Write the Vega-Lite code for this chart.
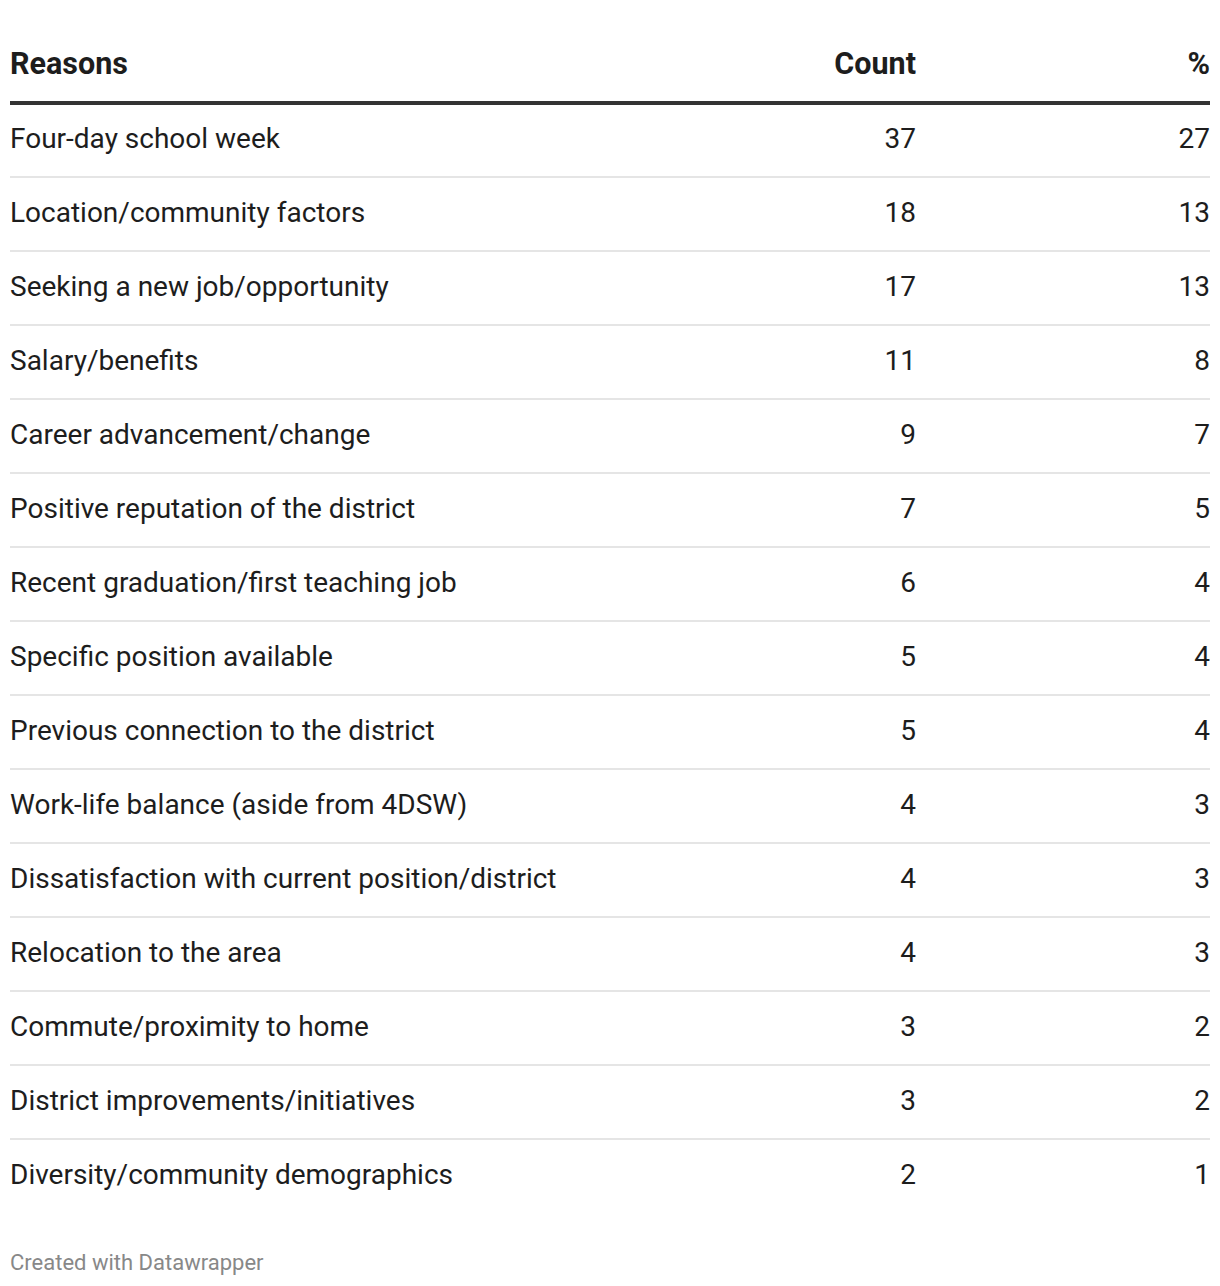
{
  "$schema": "https://vega.github.io/schema/vega-lite/v6.json",
  "padding": {"left": 8, "top": 49, "right": 10, "bottom": 10},
  "bounds": "flush",
  "spacing": 0,
  "background": "white",
  "config": {
    "view": {"stroke": null},
    "font": "Roboto",
    "concat": {"spacing": 0}
  },
  "title": {
    "text": "Created with Datawrapper",
    "orient": "bottom",
    "anchor": "start",
    "frame": "group",
    "font": "Roboto",
    "fontSize": 22,
    "fontWeight": "normal",
    "color": "#888888",
    "baseline": "alphabetic",
    "offset": 57
  },
  "datasets": {
    "table": [
      {"Reasons": "Four-day school week", "Count": 37, "Pct": 27},
      {"Reasons": "Location/community factors", "Count": 18, "Pct": 13},
      {"Reasons": "Seeking a new job/opportunity", "Count": 17, "Pct": 13},
      {"Reasons": "Salary/benefits", "Count": 11, "Pct": 8},
      {"Reasons": "Career advancement/change", "Count": 9, "Pct": 7},
      {"Reasons": "Positive reputation of the district", "Count": 7, "Pct": 5},
      {"Reasons": "Recent graduation/first teaching job", "Count": 6, "Pct": 4},
      {"Reasons": "Specific position available", "Count": 5, "Pct": 4},
      {"Reasons": "Previous connection to the district", "Count": 5, "Pct": 4},
      {"Reasons": "Work-life balance (aside from 4DSW)", "Count": 4, "Pct": 3},
      {"Reasons": "Dissatisfaction with current position/district", "Count": 4, "Pct": 3},
      {"Reasons": "Relocation to the area", "Count": 4, "Pct": 3},
      {"Reasons": "Commute/proximity to home", "Count": 3, "Pct": 2},
      {"Reasons": "District improvements/initiatives", "Count": 3, "Pct": 2},
      {"Reasons": "Diversity/community demographics", "Count": 2, "Pct": 1}
    ]
  },
  "hconcat": [
    {
      "width": 606,
      "height": 1110,
      "data": {"name": "table"},
      "title": {"text": "Reasons", "anchor": "start", "frame": "group", "font": "Roboto", "fontSize": 30.5, "fontWeight": "bold", "color": "#1d1d1d", "baseline": "alphabetic", "offset": -3},
      "encoding": {
        "y": {"field": "Reasons", "type": "nominal", "sort": null, "axis": null, "scale": {"paddingInner": 0, "paddingOuter": 0}}
      },
      "layer": [
        {
          "mark": {"type": "rule"},
          "encoding": {
            "y": {"field": "Reasons", "type": "nominal", "sort": null, "bandPosition": 0},
            "stroke": {"condition": {"test": "datum.Reasons === 'Four-day school week'", "value": "#333333"}, "value": "#e5e5e5"},
            "strokeWidth": {"condition": {"test": "datum.Reasons === 'Four-day school week'", "value": 4}, "value": 2}
          }
        },
        {
          "mark": {"type": "text", "align": "left", "baseline": "middle", "font": "Roboto", "fontSize": 28, "color": "#1d1d1d"},
          "encoding": {
            "x": {"value": 0},
            "text": {"field": "Reasons", "type": "nominal"}
          }
        }
      ]
    },
    {
      "width": 300,
      "height": 1110,
      "data": {"name": "table"},
      "title": {"text": "Count", "anchor": "end", "frame": "group", "font": "Roboto", "fontSize": 30.5, "fontWeight": "bold", "color": "#1d1d1d", "baseline": "alphabetic", "offset": -3},
      "encoding": {
        "y": {"field": "Reasons", "type": "nominal", "sort": null, "axis": null, "scale": {"paddingInner": 0, "paddingOuter": 0}}
      },
      "layer": [
        {
          "mark": {"type": "rule"},
          "encoding": {
            "y": {"field": "Reasons", "type": "nominal", "sort": null, "bandPosition": 0},
            "stroke": {"condition": {"test": "datum.Reasons === 'Four-day school week'", "value": "#333333"}, "value": "#e5e5e5"},
            "strokeWidth": {"condition": {"test": "datum.Reasons === 'Four-day school week'", "value": 4}, "value": 2}
          }
        },
        {
          "mark": {"type": "text", "align": "right", "baseline": "middle", "font": "Roboto", "fontSize": 28, "color": "#1d1d1d"},
          "encoding": {
            "x": {"value": "width"},
            "text": {"field": "Count", "type": "quantitative"}
          }
        }
      ]
    },
    {
      "width": 294,
      "height": 1110,
      "data": {"name": "table"},
      "title": {"text": "%", "anchor": "end", "frame": "group", "font": "Roboto", "fontSize": 30.5, "fontWeight": "bold", "color": "#1d1d1d", "baseline": "alphabetic", "offset": -3},
      "encoding": {
        "y": {"field": "Reasons", "type": "nominal", "sort": null, "axis": null, "scale": {"paddingInner": 0, "paddingOuter": 0}}
      },
      "layer": [
        {
          "mark": {"type": "rule"},
          "encoding": {
            "y": {"field": "Reasons", "type": "nominal", "sort": null, "bandPosition": 0},
            "stroke": {"condition": {"test": "datum.Reasons === 'Four-day school week'", "value": "#333333"}, "value": "#e5e5e5"},
            "strokeWidth": {"condition": {"test": "datum.Reasons === 'Four-day school week'", "value": 4}, "value": 2}
          }
        },
        {
          "mark": {"type": "text", "align": "right", "baseline": "middle", "font": "Roboto", "fontSize": 28, "color": "#1d1d1d"},
          "encoding": {
            "x": {"value": "width"},
            "text": {"field": "Pct", "type": "quantitative"}
          }
        }
      ]
    }
  ]
}
